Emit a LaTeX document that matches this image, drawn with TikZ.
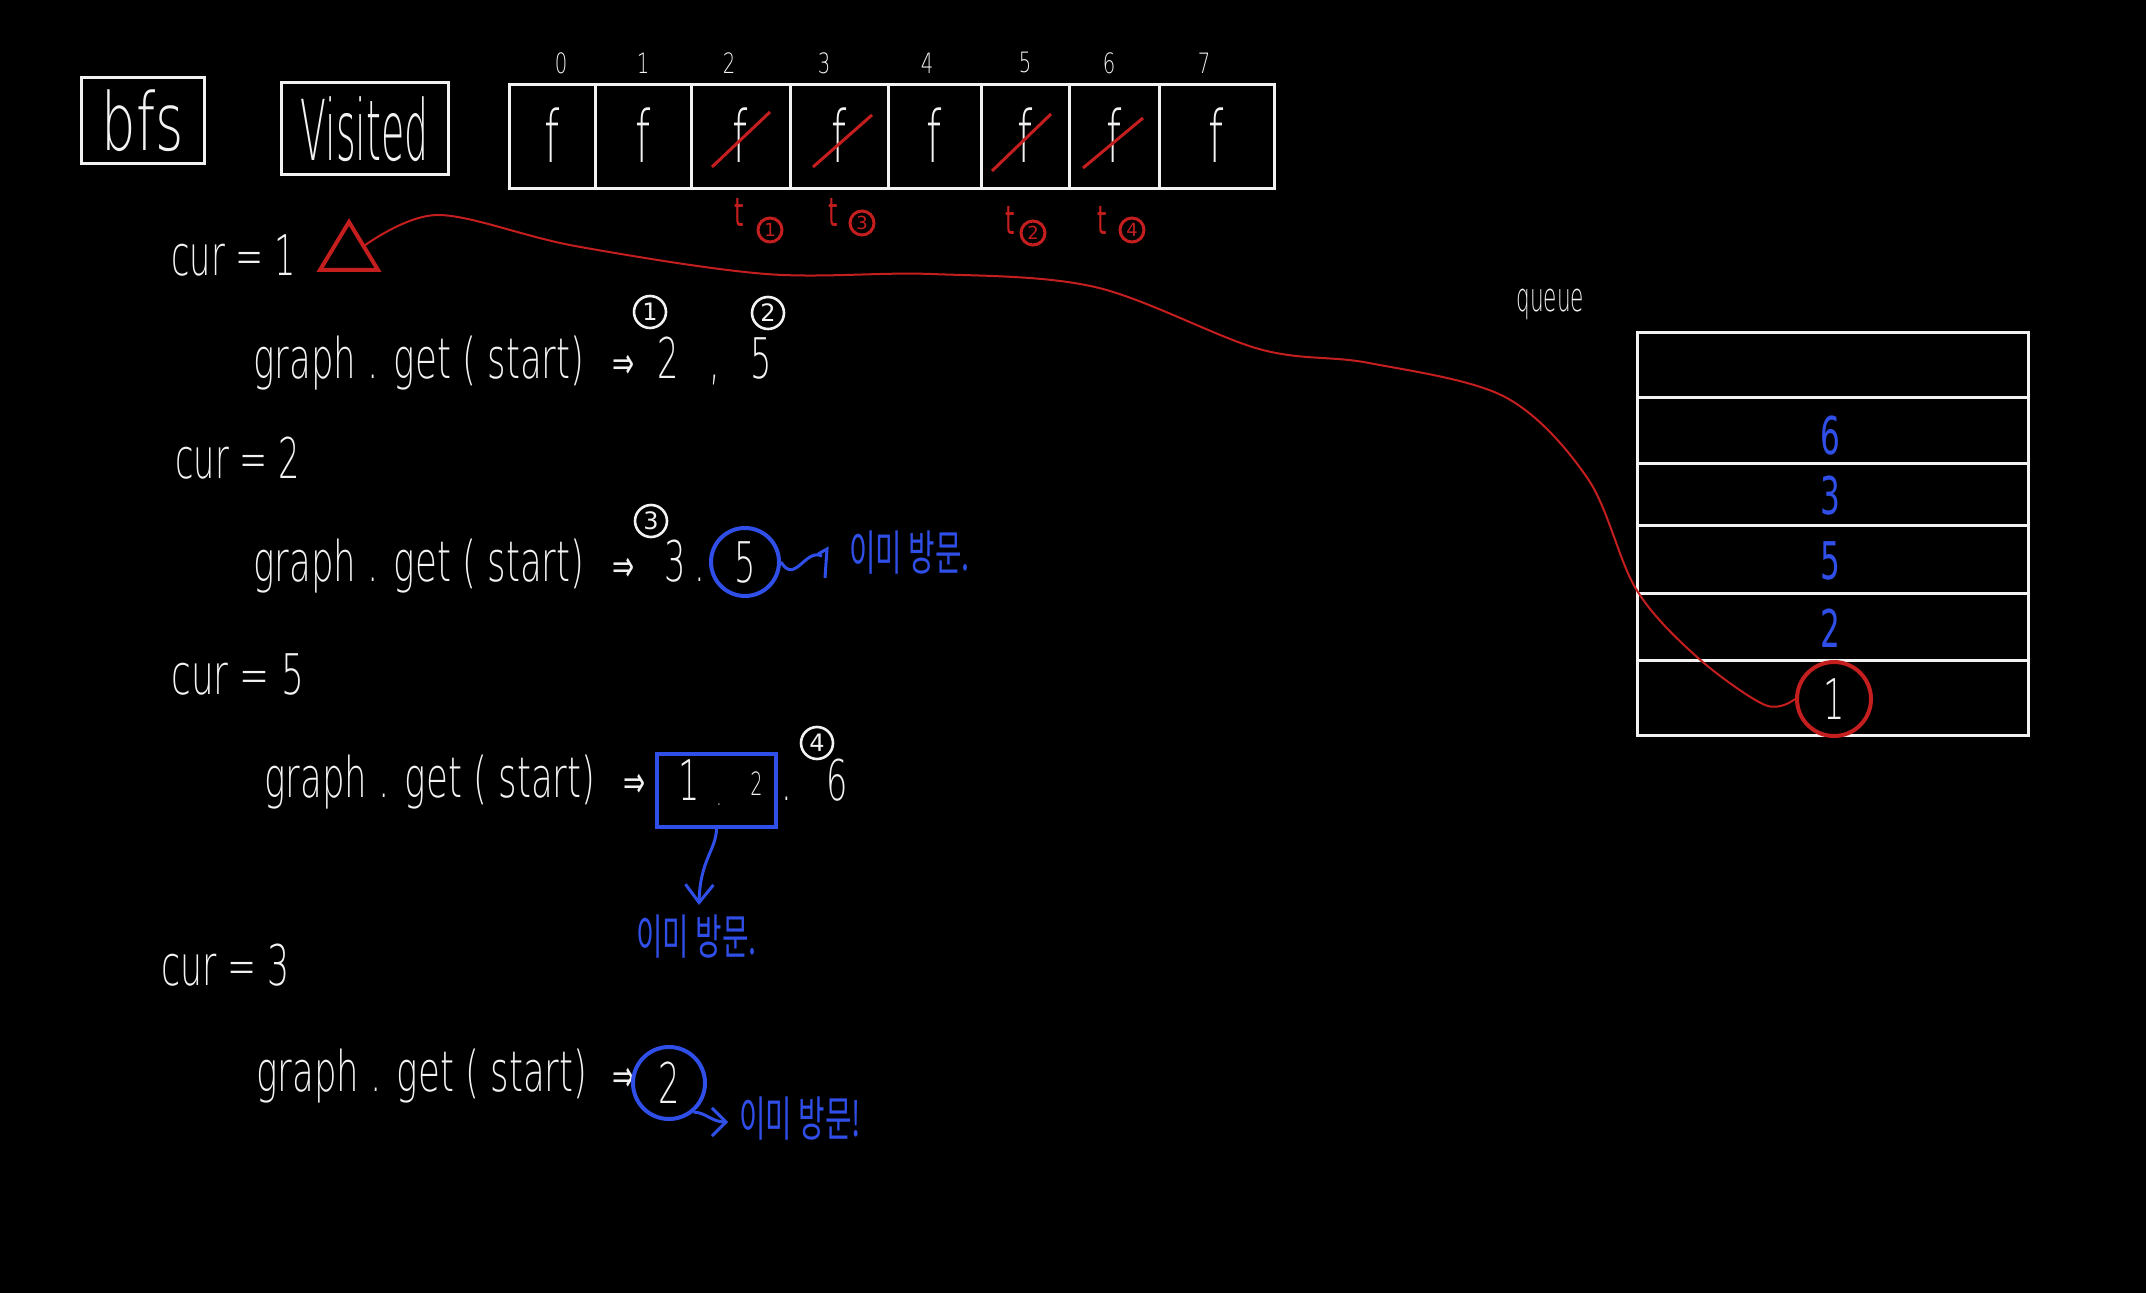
\documentclass[tikz,border=0pt]{standalone}
\usepackage{graphicx}
\usepackage{fontspec}
\setmainfont{DejaVuSans-ExtraLight.ttf}
\newfontfamily\djv{DejaVu Sans}
\newfontfamily\kr{Noto Sans CJK KR}
\usetikzlibrary{arrows.meta,shapes.geometric}
\definecolor{rd}{HTML}{C41E1E}
\definecolor{bl}{HTML}{2F4FE8}
\definecolor{wt}{HTML}{F2F2F2}
\newcommand\hw[2][0.6]{\scalebox{#1}[1]{#2}}
\begin{document}
\begin{tikzpicture}[x=0.5pt,y=-0.5pt,
  wline/.style={draw=wt,line width=1.5pt},
  txt/.style={text=wt,inner sep=0pt,font=\fontsize{28}{28}\selectfont},
  ftxt/.style={text=wt,inner sep=0pt,font=\fontsize{36}{36}\selectfont},
  idx/.style={text=wt,inner sep=0pt,font=\fontsize{14}{14}\selectfont},
  ko/.style={text=bl,inner sep=0pt,font=\kr\fontsize{24}{24}\selectfont},
  wcirc/.style={circle,draw=wt,line width=1.3pt,inner sep=0pt,minimum size=16pt,text=wt,font=\djv\fontsize{12}{12}\selectfont},
  rcirc/.style={circle,draw=rd,line width=1.5pt,inner sep=0pt,minimum size=12pt,text=rd,font=\djv\fontsize{9}{9}\selectfont},
  rt/.style={text=rd,inner sep=0pt,font=\djv\fontsize{20}{20}\selectfont},
  qnum/.style={text=bl,inner sep=0pt,font=\djv\fontsize{26}{26}\selectfont},
  slash/.style={draw=rd,line width=1.5pt}
]
\useasboundingbox (0,0) rectangle (2146,1293);
\fill[black] (0,0) rectangle (2146,1293);

% title boxes
\node[wline,minimum width=61.5pt,minimum height=43pt,inner sep=0pt] (bfs) at (142.5,121) {};
\node[text=wt,inner sep=0pt,font=\fontsize{40}{40}\selectfont] (bfst) at (bfs.center) {\hw[0.68]{bfs}};
\node[wline,minimum width=83.5pt,minimum height=46pt,inner sep=0pt] (vis) at (364.5,129) {};
\node[text=wt,inner sep=0pt,font=\fontsize{42}{42}\selectfont] (vist) at (vis.center) {\hw[0.45]{Visited}};

% visited array
\foreach \a/\b/\i/\ix in {509/595/0/561, 595/691/1/643, 691/790/2/729, 790/888/3/824, 888/981/4/927, 981/1069/5/1025, 1069/1159/6/1109, 1159/1274/7/1204}{
  \draw[wline] (\a,85) rectangle (\b,189);
  \node[ftxt] (f\i) at ({(\a+\b)/2},135) {\hw{f}};
  \node[idx] (i\i) at (\ix,63) {\hw[0.7]{\i}};
}
\draw[slash] (712,167) -- (770,112);
\draw[slash] (813,167) -- (872,115);
\draw[slash] (992,171) -- (1051,114);
\draw[slash] (1083,168) -- (1143,118);

\node[rt] (t1) at (739,212) {\hw{t}};
\node[rcirc] (r1) at (770,230) {1};
\node[rt] (t3) at (833,212) {\hw{t}};
\node[rcirc] (r3) at (862,223) {3};
\node[rt] (t2) at (1010,220) {\hw{t}};
\node[rcirc] (r2) at (1033,233) {2};
\node[rt] (t4) at (1102,220) {\hw{t}};
\node[rcirc] (r4) at (1132,230) {4};

% cur = 1
\node[txt,anchor=base west] (cur1) at (171,276) {\hw[0.6]{cur = 1}};
\draw[draw=rd,line width=2pt,line join=miter] (320,270) -- (378,270) -- (349,222) -- cycle;
\coordinate (tri) at (364,246);

\node[txt,anchor=base west] (g1) at (253,379) {\hw[0.635]{graph . get ( start)}};
\node[txt,anchor=base west,font=\djv\fontsize{22}{22}\selectfont] (a1) at (612,379) {\hw{⇒}};
\node[txt,anchor=base west] (n12) at (657,379) {\hw{2}};
\node[txt,anchor=base west] (n1c) at (709,379) {\hw{,}};
\node[txt,anchor=base west] (n15) at (750,379) {\hw{5}};
\node[wcirc] (w1) at (650,312) {1};
\node[wcirc] (w2) at (768,313) {2};

% cur = 2
\node[txt,anchor=base west] (cur2) at (175,479) {\hw[0.6]{cur = 2}};
\node[txt,anchor=base west] (g2) at (253,582) {\hw[0.635]{graph . get ( start)}};
\node[txt,anchor=base west,font=\djv\fontsize{22}{22}\selectfont] (a2) at (612,582) {\hw{⇒}};
\node[txt,anchor=base west] (n23) at (664,582) {\hw{3}};
\node[txt,anchor=base west] (n2d) at (694,582) {\hw{.}};
\node[circle,draw=bl,line width=2pt,minimum size=34pt,inner sep=0pt,txt] (c5) at (745,562) {\hw{5}};
\node[wcirc] (w3) at (651,521) {3};
\node[ko,anchor=base west] (ko1) at (849,571) {\hw{이미 방문.}};
\draw[bl,line width=1.5pt] (c5.east) .. controls (795,585) and (805,548) .. (822,556);
\draw[bl,line width=1.5pt] (818,554) -- (827,549) -- (825,578);

% cur = 5
\node[txt,anchor=base west] (cur3) at (171,695) {\hw[0.64]{cur = 5}};
\node[txt,anchor=base west] (g3) at (264,797) {\hw[0.635]{graph . get ( start)}};
\node[txt,anchor=base west,font=\djv\fontsize{22}{22}\selectfont] (a3) at (623,797) {\hw{⇒}};
\node[draw=bl,line width=2pt,minimum width=59.5pt,minimum height=36.5pt,inner sep=0pt] (bx) at (716.5,790.5) {};
\node[txt,anchor=base west] (n31) at (678,800) {\hw{1}};
\node[txt,anchor=base west,font=\fontsize{14}{14}\selectfont] (n3d) at (716,805) {\hw{.}};
\node[txt,anchor=base west,font=\fontsize{16}{16}\selectfont] (n32) at (750,795) {\hw{2}};
\node[txt,anchor=base west] (n3e) at (781,800) {\hw{.}};
\node[txt,anchor=base west] (n36) at (826,800) {\hw{6}};
\node[wcirc] (w4) at (817,743) {4};
\coordinate (a2end) at (699,905);
\draw[bl,line width=1.5pt,-{Straight Barb[length=9pt,width=14pt]}] (bx.south) .. controls (716,850) and (700,860) .. (a2end);
\node[ko,anchor=base west] (ko2) at (636,954) {\hw{이미 방문.}};

% cur = 3
\node[txt,anchor=base west] (cur4) at (161,985) {\hw[0.62]{cur = 3}};
\node[txt,anchor=base west] (g4) at (256,1091) {\hw[0.635]{graph . get ( start)}};
\node[txt,anchor=base west,font=\djv\fontsize{22}{22}\selectfont] (a4) at (612,1091) {\hw{⇒}};
\node[circle,draw=bl,line width=2pt,minimum size=36pt,inner sep=0pt,txt] (c2) at (669,1083) {\hw{2}};
\coordinate (a3end) at (728,1122);
\draw[bl,line width=1.5pt,-{Straight Barb[length=7pt,width=14pt]}] (c2.-50) .. controls (705,1112) and (712,1122) .. (a3end);
\node[ko,anchor=base west] (ko3) at (739,1136) {\hw{이미 방문!}};

% queue
\node[text=wt,inner sep=0pt,anchor=base west,font=\fontsize{20}{20}\selectfont] (ql) at (1516,312) {\hw[0.54]{queue}};
\draw[wline] (1637,333) rectangle (2028,735);
\foreach \y in {398,464,526,594,661}{\draw[wline] (1637,\y) -- (2028,\y);}
\node[qnum] (q6) at (1830,436) {\hw{6}};
\node[qnum] (q3) at (1830,496) {\hw{3}};
\node[qnum] (q5) at (1830,561) {\hw{5}};
\node[qnum] (q2) at (1830,628) {\hw{2}};
\node[circle,draw=rd,line width=2pt,minimum size=37pt,inner sep=0pt,txt] (q1) at (1834,699) {\hw{1}};

% red curve
\draw[rd,line width=1pt] plot[smooth,tension=0.55] coordinates {(tri) (438,215) (575,246) (766,274) (931,274) (1095,287) (1259,349) (1369,363) (1505,397) (1588,479) (1636,589) (1697,657) (1765,705) (q1.west)};
\end{tikzpicture}
\end{document}
